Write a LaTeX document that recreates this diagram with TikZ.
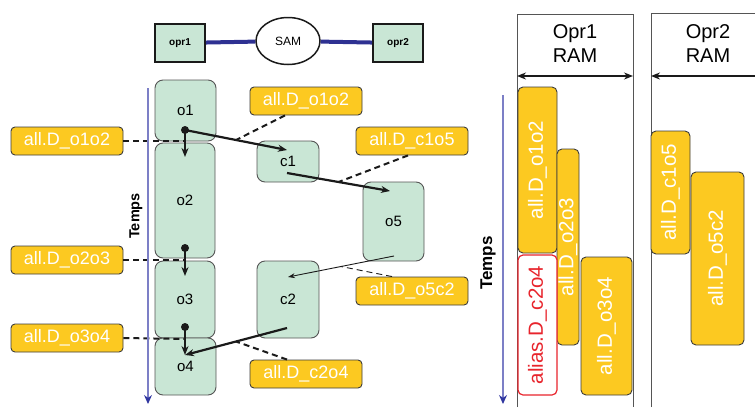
\documentclass[tikz,border=0pt]{standalone}
\usepackage{fontspec}
\setmainfont{Liberation Sans}
\usetikzlibrary{arrows.meta,positioning,calc,shapes.geometric}
\definecolor{Ink}{HTML}{1A1A1A}
\definecolor{Navy}{HTML}{2E3192}
\definecolor{Mint}{HTML}{C9E6D5}
\definecolor{MintEdge}{HTML}{555555}
\definecolor{Gold}{HTML}{FCC921}
\definecolor{GoldEdge}{HTML}{3C3C3C}
\definecolor{AliasRed}{HTML}{E8242C}
\definecolor{Axis}{HTML}{7C7FC6}
\definecolor{AxisDark}{HTML}{3036A0}
\definecolor{Frame}{HTML}{555555}

\begin{document}
\begin{tikzpicture}[x=1pt,y=-1pt,
  proc/.style={draw=Ink,line width=2pt,fill=Mint,minimum width=50pt,minimum height=38pt,inner sep=0pt,font=\fontsize{10}{12}\selectfont\bfseries},
  bus/.style={draw=Ink,line width=1.5pt,fill=white,ellipse,minimum width=64pt,minimum height=47pt,inner sep=0pt,font=\fontsize{12}{14}\selectfont},
  op/.style={draw=MintEdge,line width=0.9pt,fill=Mint,rounded corners=8pt,inner sep=0pt,font=\fontsize{15}{17}\selectfont},
  tag/.style={draw=GoldEdge,line width=0.9pt,fill=Gold,rounded corners=4pt,inner sep=0pt,minimum width=112pt,minimum height=28pt,text=white,font=\fontsize{18}{20}\selectfont},
  bar/.style={draw=GoldEdge,line width=0.9pt,fill=Gold,rounded corners=5pt,inner sep=0pt,rotate=90,text=white,font=\fontsize{20.5}{22}\selectfont},
  aliasbar/.style={bar,draw=AliasRed,fill=white,text=AliasRed,line width=1.2pt},
  flow/.style={-{Stealth[length=9pt,width=7pt]},line width=2.2pt,draw=Ink},
  thinflow/.style={-{Stealth[length=7pt,width=5pt]},line width=0.9pt,draw=Ink},
  note/.style={dash pattern=on 6pt off 4pt,line width=2pt,draw=Ink},
  thinnote/.style={dash pattern=on 6pt off 4pt,line width=0.9pt,draw=Ink},
  dot/.style={circle,fill=Ink,inner sep=0pt,minimum size=8pt},
  axis/.style={-{Stealth[length=9pt,width=8pt,color=AxisDark]},line width=1.2pt,draw=Axis},
  span/.style={{Stealth[length=9pt,width=7pt]}-{Stealth[length=9pt,width=7pt]},line width=2.6pt,draw=Ink},
  frame/.style={draw=Frame,line width=0.9pt},
  axislabel/.style={rotate=90,font=\fontsize{14.5}{16}\selectfont\bfseries}
]
  \useasboundingbox (0,0) rectangle (755,407);

  % processors and the shared memory
  \node[proc] (opr1) at (180,43) {opr1};
  \node[bus] (sam) at (288,41) {SAM};
  \node[proc] (opr2) at (398,43) {opr2};
  \draw[line width=4pt,Navy] (opr1) -- (sam) -- (opr2);

  % task graph
  \node[op,minimum width=61pt,minimum height=61pt] (o1) at (185.5,110.5) {o1};
  \node[op,minimum width=60pt,minimum height=115pt] (o2) at (185,200.5) {o2};
  \node[op,minimum width=60pt,minimum height=77pt] (o3) at (185,299.5) {o3};
  \node[op,minimum width=61pt,minimum height=57pt] (o4) at (185.5,366.5) {o4};
  \node[op,minimum width=62pt,minimum height=41pt] (c1) at (288,161.5) {c1};
  \node[op,minimum width=62pt,minimum height=77pt] (c2) at (288,299.5) {c2};
  \node[op,minimum width=61pt,minimum height=79pt] (o5) at (393.5,221.5) {o5};

  \node[tag] (Lo1o2) at (67,141) {all.D\_o1o2};
  \node[tag] (Lo2o3) at (67,260) {all.D\_o2o3};
  \node[tag] (Lo3o4) at (67,338) {all.D\_o3o4};
  \node[tag] (Ro1o2) at (306,101) {all.D\_o1o2};
  \node[tag] (c1o5) at (412,141) {all.D\_c1o5};
  \node[tag] (o5c2) at (412,291) {all.D\_o5c2};
  \node[tag] (c2o4) at (306,374) {all.D\_c2o4};

  \node[dot] (d1) at (185,130) {};
  \node[dot] (d2) at (185,248) {};
  \node[dot] (d3) at (185,327) {};
  \coordinate (j1) at (185,141);
  \coordinate (j2) at (185,260);
  \coordinate (j3) at (185,339);
  \coordinate (a1) at (185,157);
  \coordinate (a2) at (185,276);
  \coordinate (a3) at (185,355);
  \coordinate (c1in) at (287,150);
  \coordinate (c1out) at (287,173);
  \coordinate (o5in) at (390,191);
  \coordinate (o5out) at (394,256);
  \coordinate (c2in) at (288,277);
  \coordinate (c2out) at (287,328);

  \draw[note] (Lo1o2.east) -- (j1);
  \draw[note] (Lo2o3.east) -- (j2);
  \draw[note] (Lo3o4.east) -- (j3);

  \draw[flow] (d1.center) -- (a1);
  \draw[flow] (d2.center) -- (a2);
  \draw[flow] (d3.center) -- (a3);
  \draw[flow] (d1.center) -- (c1in);
  \draw[flow] (c1out) -- (o5in);
  \draw[thinflow] (o5out) -- (c2in);
  \draw[flow] (c2out) -- (a3);

  \draw[note] ([xshift=-21pt]Ro1o2.south) -- ($(d1)!0.5!(c1in)$);
  \draw[note] ([xshift=-4pt]c1o5.south) -- ($(c1out)!0.5!(o5in)$);
  \draw[thinnote] ([xshift=-20pt]o5c2.north) -- ($(o5out)!0.5!(c2in)$);
  \draw[note] ([xshift=-19pt]c2o4.north) -- ($(c2out)!0.5!(a3)$);

  \coordinate (t0) at (148,88);
  \coordinate (t1) at (148,404);
  \draw[axis] (t0) -- (t1);
  \node[axislabel] (temps) at (136,216) {Temps};

  % memory occupation per processor
  \coordinate (f1bl) at (517,407);
  \coordinate (f1tl) at (517,14);
  \coordinate (f1tr) at (633,14);
  \coordinate (f1br) at (633,407);
  \coordinate (f2bl) at (651,407);
  \coordinate (f2tl) at (651,13);
  \coordinate (f2tr) at (755,13);
  \draw[frame] (f1bl) -- (f1tl) -- (f1tr) -- (f1br);
  \draw[frame] (f2bl) -- (f2tl) -- (f2tr);
  \node[align=center,font=\fontsize{20}{24}\selectfont] (ram1) at (575,44) {Opr1\\RAM};
  \node[align=center,font=\fontsize{20}{24}\selectfont] (ram2) at (708,44) {Opr2\\RAM};
  \coordinate (s1l) at (517,76);
  \coordinate (s1r) at (633,76);
  \coordinate (s2l) at (651,76);
  \coordinate (s2r) at (758,76);
  \draw[span] (s1l) -- (s1r);
  \draw[-{Stealth[length=9pt,width=7pt]},line width=2.6pt,draw=Ink] (s2r) -- (s2l);

  \node[bar,minimum width=166pt,minimum height=39pt] (b1) at (537.5,170) {all.D\_o1o2};
  \node[bar,minimum width=196pt,minimum height=22pt] (b2) at (568,247) {all.D\_o2o3};
  \node[aliasbar,minimum width=140pt,minimum height=39pt] (b3) at (537.5,325) {alias.D\_c2o4};
  \node[bar,minimum width=138pt,minimum height=51pt] (b4) at (606.5,326) {all.D\_o3o4};
  \node[bar,minimum width=123pt,minimum height=39pt] (b5) at (670.5,192.5) {all.D\_c1o5};
  \node[bar,minimum width=173pt,minimum height=53pt] (b6) at (717.5,258.5) {all.D\_o5c2};

  \coordinate (u0) at (503,95);
  \coordinate (u1) at (503,404);
  \draw[axis] (u0) -- (u1);
  \node[axislabel,font=\fontsize{17}{19}\selectfont\bfseries] (temps2) at (488,263) {Temps};
\end{tikzpicture}
\end{document}
